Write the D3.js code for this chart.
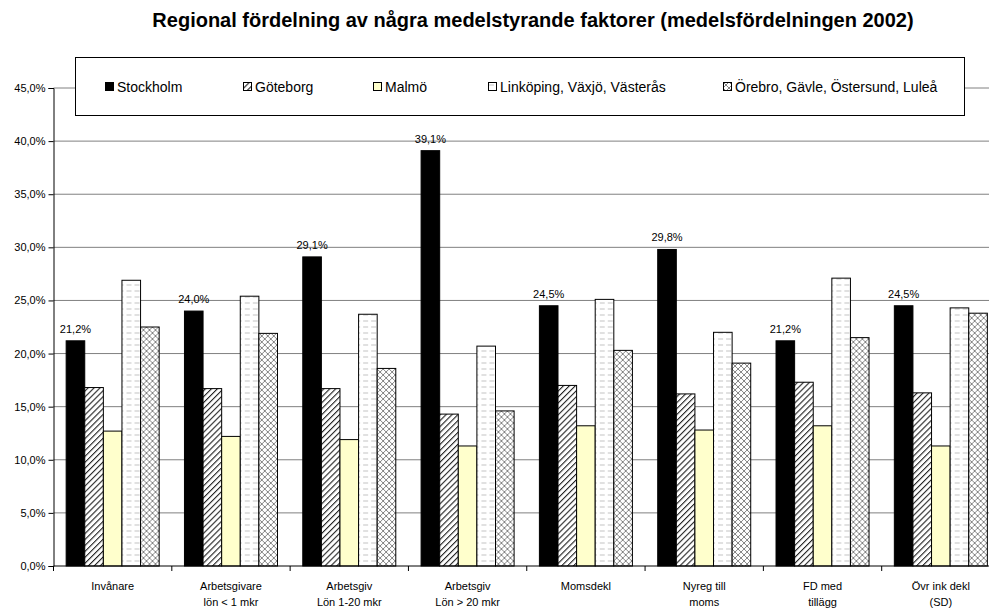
<!DOCTYPE html>
<html><head><meta charset="utf-8">
<script src="https://cdn.jsdelivr.net/npm/d3@7"></script>
<style>body{margin:0;background:#fff}svg{display:block}text{font-family:"Liberation Sans",Arial,sans-serif}</style>
</head><body>
<svg id="chart" width="989" height="608"></svg>
<script>
const categories = [
  ["Invånare"],
  ["Arbetsgivare","lön < 1 mkr"],
  ["Arbetsgiv","Lön 1-20 mkr"],
  ["Arbetsgiv","Lön > 20 mkr"],
  ["Momsdekl"],
  ["Nyreg till","moms"],
  ["FD med","tillägg"],
  ["Övr ink dekl","(SD)"]
];
const seriesNames = ["Stockholm","Göteborg","Malmö","Linköping, Växjö, Västerås","Örebro, Gävle, Östersund, Luleå"];
const stockholm = [21.2, 24.0, 29.1, 39.1, 24.5, 29.8, 21.2, 24.5];
const goteborg  = [16.8, 16.7, 16.7, 14.3, 17.0, 16.2, 17.3, 16.3];
const malmo     = [12.7, 12.2, 11.9, 11.3, 13.2, 12.8, 13.2, 11.3];
const linkoping = [26.9, 25.4, 23.7, 20.7, 25.1, 22.0, 27.1, 24.3];
const orebro    = [22.5, 21.9, 18.6, 14.6, 20.3, 19.1, 21.5, 23.8];
const yTicks = [0,5,10,15,20,25,30,35,40,45];
const title = "Regional fördelning av några medelstyrande faktorer (medelsfördelningen 2002)";

const seriesValues = [stockholm, goteborg, malmo, linkoping, orebro];
const fills = ["#000000","url(#pHatch)","#FFFFCC","url(#pDash)","url(#pCross)"];

const svg = d3.select("#chart");
const defs = svg.append("defs");
// diagonal hatch
const ph = defs.append("pattern").attr("id","pHatch").attr("patternUnits","userSpaceOnUse")
  .attr("width",4.2).attr("height",4.2).attr("patternTransform","rotate(45)");
ph.append("rect").attr("width",4.2).attr("height",4.2).attr("fill","#fff");
ph.append("line").attr("x1",0).attr("y1",0).attr("x2",0).attr("y2",4.2).attr("stroke","#222").attr("stroke-width",2.2);
// dashed horizontal
const pd = defs.append("pattern").attr("id","pDash").attr("patternUnits","userSpaceOnUse")
  .attr("width",8).attr("height",6);
pd.append("rect").attr("width",8).attr("height",6).attr("fill","#fff");
pd.append("line").attr("x1",1).attr("y1",3).attr("x2",6).attr("y2",3).attr("stroke","#c4c4c4").attr("stroke-width",1);
// cross zigzag
const pc = defs.append("pattern").attr("id","pCross").attr("patternUnits","userSpaceOnUse")
  .attr("width",6).attr("height",6);
pc.append("rect").attr("width",6).attr("height",6).attr("fill","#fff");
pc.append("path").attr("d","M0,0 L3,3 L0,6 M6,0 L3,3 L6,6").attr("stroke","#777").attr("stroke-width",0.9).attr("fill","none");

const x0 = 53.5, x1 = 1000, yTop = 88, yBot = 566;
const x = d3.scaleBand().domain(d3.range(categories.length)).range([x0, x1]).paddingInner(0).paddingOuter(0);
const barW = x.bandwidth() / 6.36;
const xs = d3.scaleBand().domain(d3.range(seriesNames.length))
  .range([ (x.bandwidth() - 5*barW)/2, (x.bandwidth() + 5*barW)/2 ]);
const y = d3.scaleLinear().domain([0,45]).range([yBot, yTop]);

// gridlines
svg.append("g").selectAll("line").data(yTicks.filter(d=>d>0)).join("line")
  .attr("x1",x0).attr("x2",989).attr("y1",d=>y(d)).attr("y2",d=>y(d))
  .attr("stroke","#808080").attr("stroke-width",1);

// bars
const gCat = svg.append("g").selectAll("g").data(categories).join("g")
  .attr("transform",(d,i)=>`translate(${x(i)},0)`);
gCat.selectAll("rect").data((d,i)=>seriesValues.map((s,k)=>({k, v:s[i]}))).join("rect")
  .attr("x",d=>xs(d.k)).attr("width",xs.bandwidth())
  .attr("y",d=>y(d.v)).attr("height",d=>yBot - y(d.v))
  .attr("fill",d=>fills[d.k]).attr("stroke","#000").attr("stroke-width",1);

// labels for Stockholm
gCat.append("text").attr("x",xs(0)+xs.bandwidth()/2).attr("y",(d,i)=>y(stockholm[i])-8)
  .attr("text-anchor","middle").attr("font-size",11).attr("fill","#000")
  .text((d,i)=>d3.format(".1f")(stockholm[i]).replace(".",",")+"%");

// y axis
const yAxis = d3.axisLeft(y).tickValues(yTicks).tickSize(5).tickPadding(3)
  .tickFormat(d=>d3.format(".1f")(d).replace(".",",")+"%");
const ga = svg.append("g").attr("transform",`translate(${x0},0)`).call(yAxis);
ga.select(".domain").attr("stroke","#000");
ga.selectAll(".tick line").attr("stroke","#000");
ga.selectAll("text").attr("font-size",11).attr("fill","#000").attr("font-family","Liberation Sans, Arial, sans-serif");

// x axis
svg.append("line").attr("x1",x0).attr("x2",989).attr("y1",yBot).attr("y2",yBot).attr("stroke","#000");
svg.append("g").selectAll("line").data(d3.range(categories.length+1)).join("line")
  .attr("x1",i=>x0 + i*x.bandwidth()).attr("x2",i=>x0 + i*x.bandwidth())
  .attr("y1",yBot).attr("y2",yBot+5).attr("stroke","#000");
const gl = svg.append("g").selectAll("text").data(categories).join("text")
  .attr("text-anchor","middle").attr("font-size",11).attr("fill","#000");
gl.each(function(d,i){
  const t = d3.select(this);
  d.forEach((line,j)=>t.append("tspan").attr("x",x(i)+x.bandwidth()/2).attr("y",590+j*16).text(line));
});

// legend
svg.append("rect").attr("x",75.5).attr("y",57.5).attr("width",889).attr("height",58)
  .attr("fill","#fff").attr("stroke","#000").attr("stroke-width",1);
const legX = [105, 243, 373, 488, 723];
const lg = svg.append("g").selectAll("g").data(seriesNames).join("g")
  .attr("transform",(d,i)=>`translate(${legX[i]},82)`);
lg.append("rect").attr("x",0.5).attr("y",0.5).attr("width",8).attr("height",8)
  .attr("fill",(d,i)=>fills[i]).attr("stroke","#000").attr("stroke-width",1);
lg.append("text").attr("x",12).attr("y",10).attr("font-size",14).attr("fill","#000").text(d=>d);

// title
svg.append("text").attr("x",533).attr("y",27).attr("text-anchor","middle")
  .attr("font-size",20).attr("font-weight","bold").attr("fill","#000").text(title);
</script>
</body></html>
